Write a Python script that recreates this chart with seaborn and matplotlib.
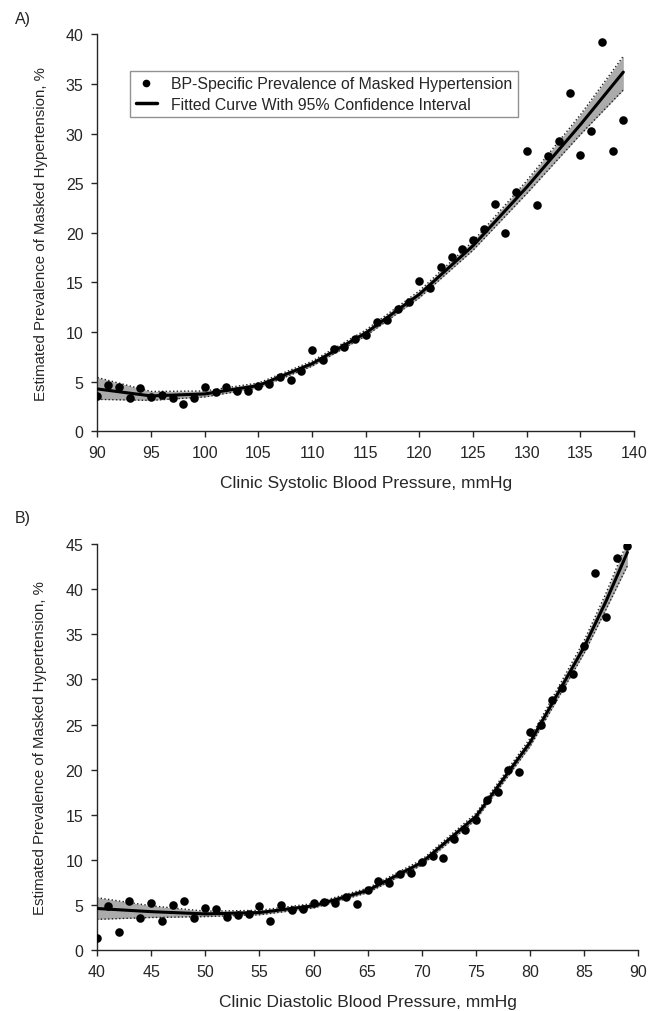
import numpy as np
import pandas as pd
import matplotlib
matplotlib.use("Agg")
import matplotlib.pyplot as plt
from matplotlib.lines import Line2D
import seaborn as sns

# Panel A: clinic systolic BP vs prevalence (%)
sbp = list(range(90, 140))
sbp_prev = [3.5, 4.7, 4.4, 3.3, 4.3, 3.4, 3.6, 3.3, 2.7, 3.35,
            4.4, 3.9, 4.4, 4.05, 4.0, 4.5, 4.8, 5.5, 5.2, 6.1,
            8.2, 7.2, 8.3, 8.5, 9.3, 9.7, 11.0, 11.2, 12.3, 13.0,
            15.1, 14.4, 16.5, 17.6, 18.4, 19.3, 20.4, 22.9, 20.0, 24.1,
            28.2, 22.8, 27.7, 29.3, 34.1, 27.8, 30.3, 39.2, 28.2, 31.4]
# fitted curve and 95% CI
sbp_fit_x = [90, 95, 100, 105, 110, 115, 120, 125, 130, 135, 139]
sbp_fit = [4.25, 3.55, 3.75, 4.6, 6.8, 9.9, 13.8, 18.7, 24.6, 30.9, 36.2]
sbp_lo = [3.2, 3.1, 3.45, 4.35, 6.55, 9.6, 13.45, 18.25, 23.95, 29.9, 34.4]
sbp_hi = [5.4, 4.0, 4.05, 4.85, 7.05, 10.2, 14.15, 19.15, 25.25, 31.9, 37.8]

# Panel B: clinic diastolic BP vs prevalence (%)
dbp = list(range(40, 90))
dbp_prev = [1.3, 4.9, 2.0, 5.4, 3.5, 5.2, 3.2, 5.0, 5.4, 3.55,
            4.7, 4.55, 3.7, 3.85, 4.0, 4.9, 3.2, 5.0, 4.4, 4.5,
            5.25, 5.35, 5.2, 5.9, 5.1, 6.6, 7.6, 7.4, 8.4, 8.5,
            9.8, 10.4, 10.2, 12.3, 13.3, 14.45, 16.6, 17.55, 20.0, 19.7,
            24.2, 25.0, 27.7, 29.0, 30.6, 33.7, 41.8, 36.9, 43.5, 44.75]
dbp_fit_x = [40, 45, 50, 55, 60, 65, 70, 75, 80, 85, 87, 89]
dbp_fit = [4.6, 4.25, 4.0, 4.15, 4.9, 6.6, 9.7, 14.8, 23.0, 33.6, 38.6, 44.1]
dbp_lo = [3.4, 3.6, 3.7, 3.9, 4.65, 6.35, 9.4, 14.45, 22.55, 32.9, 37.7, 42.6]
dbp_hi = [5.8, 4.9, 4.3, 4.4, 5.15, 6.85, 10.0, 15.15, 23.45, 34.3, 39.5, 45.3]

sns.set_style("ticks")
plt.rcParams["font.family"] = ["Liberation Sans", "DejaVu Sans"]
plt.rcParams["font.size"] = 10

fig = plt.figure(figsize=(6.6, 10.12), dpi=100)
ax1 = fig.add_axes([0.1477, 0.573, 0.813, 0.392])
ax2 = fig.add_axes([0.147, 0.0603, 0.82, 0.401])


def draw_panel(ax, x, y, fx, fit, lo, hi, xlim, ylim, xlabel):
    pts = pd.DataFrame({"bp": x, "prev": y})
    fdf = pd.DataFrame({"bp": fx, "fit": fit, "lo": lo, "hi": hi})
    ax.fill_between(fdf["bp"], fdf["lo"], fdf["hi"], color="#ababab",
                    lw=0, zorder=1)
    for col in ["lo", "hi"]:
        sns.lineplot(data=fdf, x="bp", y=col, ax=ax, color="#222222",
                     lw=1.0, ls=":", zorder=2)
    sns.lineplot(data=fdf, x="bp", y="fit", ax=ax, color="black",
                 lw=2.2, zorder=3)
    sns.scatterplot(data=pts, x="bp", y="prev", color="black", s=38,
                    linewidth=0, ax=ax, zorder=4)
    ax.set_xlim(*xlim)
    ax.set_ylim(*ylim)
    ax.set_xticks(np.arange(xlim[0], xlim[1] + 1, 5))
    ax.set_yticks(np.arange(ylim[0], ylim[1] + 1, 5))
    ax.set_xlabel(xlabel, fontsize=12.5, labelpad=11)
    ax.set_ylabel("Estimated Prevalence of Masked Hypertension, %",
                  fontsize=10.8, labelpad=13)
    ax.tick_params(labelsize=11.5, length=4, width=1, pad=6)
    for s in ["left", "bottom"]:
        ax.spines[s].set_linewidth(1)
    sns.despine(ax=ax)


draw_panel(ax1, sbp, sbp_prev, sbp_fit_x, sbp_fit, sbp_lo, sbp_hi,
           (90, 140), (0, 40), "Clinic Systolic Blood Pressure, mmHg")
draw_panel(ax2, dbp, dbp_prev, dbp_fit_x, dbp_fit, dbp_lo, dbp_hi,
           (40, 90), (0, 45), "Clinic Diastolic Blood Pressure, mmHg")

handles = [Line2D([], [], ls="none", marker="o", color="black", ms=4.5),
           Line2D([], [], color="black", lw=2.5)]
labels = ["BP-Specific Prevalence of Masked Hypertension",
          "Fitted Curve With 95% Confidence Interval"]
leg = ax1.legend(handles, labels, loc="upper left",
                 bbox_to_anchor=(0.0606, 0.909), borderaxespad=0,
                 frameon=True, fancybox=False, edgecolor="#777777",
                 fontsize=11.4, handlelength=1.35, handletextpad=0.9,
                 borderpad=0.35, labelspacing=0.35)
leg.get_frame().set_linewidth(1)

fig.text(0.022, 0.988, "A)", fontsize=11.5, va="top")
fig.text(0.022, 0.495, "B)", fontsize=11.5, va="top")

fig.savefig("out.png", dpi=100)
